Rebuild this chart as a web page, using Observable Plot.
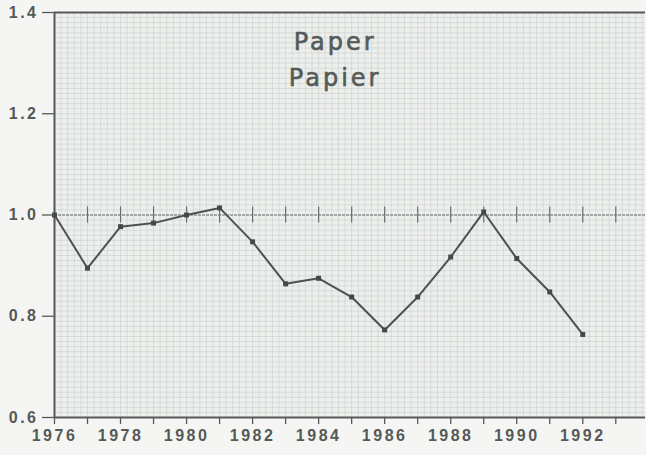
<!DOCTYPE html>
<html>
<head>
<meta charset="utf-8">
<script src="https://cdn.jsdelivr.net/npm/d3@7"></script>
<script src="https://cdn.jsdelivr.net/npm/@observablehq/plot@0.6"></script>
<style>
  html, body { margin: 0; padding: 0; background: #f5f5f4; }
  #chart svg { display: block; }
  #chart g[aria-label="x-axis tick label"] text,
  #chart g[aria-label="y-axis tick label"] text { letter-spacing: 2.5px; }
  #chart g[aria-label="text"] text { letter-spacing: 3px; }
</style>
</head>
<body>
<div id="chart"></div>
<script>
const years = [1976, 1977, 1978, 1979, 1980, 1981, 1982, 1983, 1984, 1985, 1986, 1987, 1988, 1989, 1990, 1991, 1992];
const values = [1.000, 0.895, 0.977, 0.984, 1.000, 1.014, 0.947, 0.864, 0.875, 0.838, 0.773, 0.838, 0.917, 1.006, 0.914, 0.848, 0.764];
const xTickYears = [1976, 1977, 1978, 1979, 1980, 1981, 1982, 1983, 1984, 1985, 1986, 1987, 1988, 1989, 1990, 1991, 1992, 1993];
const xLabelYears = [1976, 1978, 1980, 1982, 1984, 1986, 1988, 1990, 1992];
const xLabels = ["1976", "1978", "1980", "1982", "1984", "1986", "1988", "1990", "1992"];
const yTicks = [0.6, 0.8, 1.0, 1.2, 1.4];
const yLabels = ["0.6", "0.8", "1.0", "1.2", "1.4"];
const titleLines = ["Paper", "Papier"];

const data = years.map((y, i) => ({year: y, value: values[i]}));
const labelOf = new Map(xLabelYears.map((y, i) => [y, xLabels[i]]));
const yLabelOf = new Map(yTicks.map((t, i) => [t.toFixed(1), yLabels[i]]));

const ink = "#555a58";
const fontFamily = "'Liberation Sans', Arial, sans-serif";

const chart = Plot.plot({
  width: 646,
  height: 455,
  marginLeft: 54,
  marginRight: 1,
  marginTop: 12,
  marginBottom: 38,
  style: {background: "#f5f5f4", fontFamily},
  x: {domain: [1976, 1993.9], label: null},
  y: {domain: [0.6, 1.4], label: null},
  marks: [
    Plot.rect([0], {x1: 1976, x2: 1993.9, y1: 0.6, y2: 1.4, fill: "#edefed"}),
    Plot.gridX(d3.range(1976, 1994, 0.2), {stroke: "#cdd1ce", strokeOpacity: 0.65, strokeWidth: 1}),
    Plot.gridY(d3.range(0.6, 1.4, 0.01), {stroke: "#cdd1ce", strokeOpacity: 0.65, strokeWidth: 1}),
    Plot.ruleY([1], {stroke: "#6a6e6c", strokeWidth: 1.2, strokeDasharray: "3,1"}),
    Plot.ruleX(xTickYears, {x: d => d, y1: 0.984, y2: 1.016, stroke: "#6a6e6c", strokeWidth: 1.2}),
    Plot.ruleY([1.4], {stroke: ink, strokeWidth: 2}),
    Plot.ruleY([0.6], {stroke: ink, strokeWidth: 2}),
    Plot.ruleX([1976], {stroke: ink, strokeWidth: 2}),
    Plot.line(data, {x: "year", y: "value", stroke: "#4d5250", strokeWidth: 2}),
    Plot.dot(data, {x: "year", y: "value", symbol: "square", r: 2.8, fill: "#444846"}),
    Plot.axisX(xTickYears, {
      label: null,
      tickSize: 7, tickPadding: 5, stroke: ink, strokeWidth: 1.3,
      tickFormat: d => labelOf.get(d) ?? "",
      fontSize: 16, fontWeight: "bold", fill: ink
    }),
    Plot.axisY(yTicks, {
      label: null,
      tickSize: 12, tickPadding: 4, stroke: ink, strokeWidth: 1.3,
      tickFormat: d => yLabelOf.get(d.toFixed(1)),
      fontSize: 16, fontWeight: "bold", fill: ink
    }),
    Plot.text([titleLines[0]], {x: 1984.5, y: 1.341, text: d => d, fontSize: 24, fill: ink, stroke: ink, strokeWidth: 0.6, fontFamily: "'DejaVu Sans', sans-serif"}),
    Plot.text([titleLines[1]], {x: 1984.5, y: 1.27, text: d => d, fontSize: 24, fill: ink, stroke: ink, strokeWidth: 0.6, fontFamily: "'DejaVu Sans', sans-serif"})
  ]
});
document.getElementById("chart").appendChild(chart);
</script>
</body>
</html>
